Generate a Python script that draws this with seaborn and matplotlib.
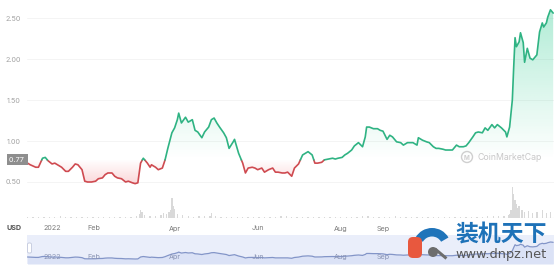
import numpy as np
import pandas as pd
import matplotlib
matplotlib.use("Agg")
import matplotlib.pyplot as plt
import seaborn as sns
from matplotlib.path import Path
from matplotlib.patches import Circle, Wedge, FancyBboxPatch, Rectangle
import matplotlib.transforms as mtransforms

# ---------------- data ----------------
# days relative to 2022-01-01
days = [-18, -16, -12, -10, -7, -5, -3, 0, 2, 4, 7, 10, 12, 15, 17, 19, 22, 24, 26, 29,
        32, 34, 37, 39, 41, 44, 46, 48, 51, 54, 56, 59, 61, 63, 65, 67, 70, 72, 73, 76,
        78, 81, 83, 85, 88, 90, 92, 93, 95, 98, 100, 103, 105, 107, 110, 112, 115, 117, 119, 121,
        123, 126, 128, 130, 133, 134, 137, 140, 142, 144, 147, 149, 151, 154, 156, 159, 162, 164, 166, 169,
        171, 173, 176, 178, 181, 184, 186, 188, 191, 193, 195, 198, 200, 203, 206, 208, 210, 213, 215, 217,
        220, 222, 225, 228, 230, 231, 233, 236, 239, 241, 243, 246, 248, 250, 253, 256, 258, 261, 263, 265,
        268, 269, 272, 275, 277, 280, 282, 284, 287, 289, 291, 294, 297, 299, 302, 304, 306, 309, 311, 313,
        316, 318, 320, 323, 325, 327, 330, 333, 334, 336, 338, 339, 340, 341, 343, 344, 346, 347, 349, 351,
        353, 356, 358, 360, 361, 363, 364, 366, 368]
price = [0.73, 0.71, 0.68, 0.68, 0.79, 0.80, 0.76, 0.72, 0.73, 0.71, 0.68, 0.63, 0.63, 0.68, 0.72, 0.71, 0.65, 0.51, 0.50, 0.50,
         0.51, 0.54, 0.55, 0.59, 0.61, 0.61, 0.57, 0.55, 0.54, 0.50, 0.51, 0.49, 0.48, 0.49, 0.73, 0.79, 0.73, 0.68, 0.71, 0.68,
         0.65, 0.67, 0.77, 0.91, 1.10, 1.16, 1.26, 1.34, 1.22, 1.29, 1.23, 1.26, 1.13, 1.11, 1.04, 1.11, 1.17, 1.26, 1.28, 1.22,
         1.17, 1.10, 1.04, 0.91, 0.99, 1.02, 0.85, 0.73, 0.61, 0.67, 0.68, 0.67, 0.65, 0.67, 0.62, 0.65, 0.67, 0.62, 0.62, 0.61,
         0.61, 0.62, 0.57, 0.67, 0.72, 0.83, 0.85, 0.87, 0.83, 0.73, 0.73, 0.74, 0.77, 0.78, 0.79, 0.78, 0.79, 0.80, 0.83, 0.85,
         0.89, 0.94, 0.98, 0.93, 1.05, 1.17, 1.17, 1.15, 1.15, 1.13, 1.12, 1.02, 1.07, 1.05, 0.99, 0.98, 0.95, 0.98, 0.98, 0.98,
         0.95, 1.04, 1.01, 0.99, 0.98, 0.93, 0.91, 0.91, 0.90, 0.89, 0.89, 0.89, 0.95, 0.93, 0.93, 0.94, 0.98, 1.05, 1.10, 1.11,
         1.10, 1.16, 1.13, 1.20, 1.16, 1.20, 1.16, 1.11, 1.05, 1.17, 1.50, 1.90, 2.26, 2.15, 2.21, 2.32, 2.20, 1.96, 2.13, 2.01,
         1.99, 2.05, 2.33, 2.44, 2.39, 2.44, 2.51, 2.60, 2.56]

vol_days = [-18, -14, -10, -6, -2, 2, 6, 10, 14, 18, 22, 26, 30, 34, 38, 42, 46, 50, 54, 58,
            62, 64, 65, 66, 68, 72, 76, 80, 82, 84, 86, 87, 88, 89, 90, 92, 96, 100, 104, 108,
            112, 116, 117, 120, 124, 128, 132, 136, 140, 144, 148, 152, 156, 160, 164, 168, 172, 176, 180, 184,
            188, 192, 196, 200, 204, 208, 212, 216, 220, 224, 228, 232, 236, 240, 244, 248, 252, 256, 260, 264,
            268, 272, 276, 280, 284, 288, 292, 296, 300, 304, 308, 312, 316, 320, 324, 328, 332, 335, 336, 337,
            338, 339, 340, 341, 342, 343, 345, 347, 350, 353, 356, 360, 363, 366]
volume = [30, 30, 30, 30, 30, 30, 40, 30, 30, 30, 30, 30, 30, 30, 30, 30, 30, 30, 30, 30,
          40, 80, 160, 120, 60, 40, 40, 60, 100, 80, 120, 160, 400, 240, 180, 80, 60, 40, 30, 40,
          40, 50, 100, 40, 30, 30, 30, 30, 30, 30, 30, 30, 30, 30, 30, 40, 40, 30, 30, 30,
          30, 30, 30, 30, 30, 30, 30, 30, 30, 30, 40, 40, 30, 30, 30, 30, 40, 30, 30, 30,
          30, 30, 30, 30, 30, 30, 30, 30, 30, 30, 30, 30, 30, 40, 40, 40, 50, 60, 80, 160,
          620, 480, 360, 280, 200, 240, 160, 120, 140, 100, 120, 160, 100, 120]

month_ticks = [0, 31, 90, 151, 212, 243]
month_labels = ["2022", "Feb", "Apr", "Jun", "Aug", "Sep"]
y_ticks = [0.5, 1.0, 1.5, 2.0, 2.5]
y_labels = ["0.50", "1.00", "1.50", "2.00", "2.50"]
base_price = 0.77

GREEN = "#2fb383"
RED = "#cf4a50"

# ---------------- figure ----------------
sns.set_theme(style="white")
plt.rcParams["font.family"] = ["Inter", "DejaVu Sans"]

W, H = 554, 266
fig = plt.figure(figsize=(W / 100, H / 100), dpi=100)
fig.patch.set_facecolor("white")
# pixel coordinates with origin at top-left
PIX = mtransforms.Affine2D().scale(1.0, -1.0).translate(0, H) + \
    mtransforms.Affine2D().scale(1.0 / W, 1.0 / H) + fig.transFigure


def px_ax(x0, y_top, x1, y_bot):
    return fig.add_axes([x0 / W, (H - y_bot) / H, (x1 - x0) / W, (y_bot - y_top) / H])


XMIN, XMAX = -18.4, 368.6

# volume axes (behind)
vax = px_ax(27, 178, 554, 218)
vax.set_xlim(XMIN, XMAX)
vax.set_ylim(0, 800)
vax.bar(vol_days, volume, width=1.0, color="#d9d9d9", linewidth=0)
vax.axhline(0, color="#e6e6e6", lw=0.8)
vax.axis("off")

# main price axes
ax = px_ax(27, 0, 554, 223)
ax.patch.set_alpha(0)
ax.set_xlim(XMIN, XMAX)
ax.set_ylim(0, 223 / 82)
for s in ax.spines.values():
    s.set_visible(False)
for yv in y_ticks:
    ax.axhline(yv, color="#f2f2f2", lw=0.6, zorder=0)

xs = np.array(days, float)
ys = np.array(price, float)


def grad_fill(where_up):
    if where_up:
        coll = ax.fill_between(xs, ys, base_price, where=ys >= base_price, interpolate=True,
                               facecolor="none", edgecolor="none")
        lo, hi = base_price, 2.65
        rgba = np.zeros((100, 2, 4))
        rgba[..., :3] = matplotlib.colors.to_rgb("#16c784")
        rgba[..., 3] = np.linspace(0.34, 0.0, 100)[:, None]
    else:
        coll = ax.fill_between(xs, ys, base_price, where=ys < base_price, interpolate=True,
                               facecolor="none", edgecolor="none")
        lo, hi = 0.45, base_price
        rgba = np.zeros((100, 2, 4))
        rgba[..., :3] = matplotlib.colors.to_rgb("#ea3943")
        rgba[..., 3] = np.linspace(0.0, 0.22, 100)[:, None]
    paths = coll.get_paths()
    if not paths:
        return
    cp = Path.make_compound_path(*paths)
    im = ax.imshow(rgba, extent=[XMIN, XMAX, lo, hi], origin="upper", aspect="auto",
                   interpolation="bilinear", zorder=1)
    im.set_clip_path(cp, transform=ax.transData)


grad_fill(True)
grad_fill(False)
ax.set_xlim(XMIN, XMAX)
ax.set_ylim(0, 223 / 82)

# split line by baseline
rows = []
seg = 0
side = "up" if ys[0] >= base_price else "down"
rows.append((xs[0], ys[0], seg, side))
for i in range(1, len(xs)):
    s = "up" if ys[i] >= base_price else "down"
    if s != side:
        t = (base_price - ys[i - 1]) / (ys[i] - ys[i - 1])
        xc = xs[i - 1] + t * (xs[i] - xs[i - 1])
        rows.append((xc, base_price, seg, side))
        seg += 1
        side = s
        rows.append((xc, base_price, seg, side))
    rows.append((xs[i], ys[i], seg, side))
df = pd.DataFrame(rows, columns=["day", "price", "seg", "side"])
sns.lineplot(data=df, x="day", y="price", hue="side", units="seg", estimator=None,
             palette={"up": GREEN, "down": RED}, sort=False, legend=False,
             linewidth=1.2, ax=ax, zorder=3)
ax.set_xlabel("")
ax.set_ylabel("")

ax.set_yticks(y_ticks)
ax.set_yticklabels(y_labels)
ax.set_xticks(month_ticks)
ax.set_xticklabels(month_labels)
ax.tick_params(axis="y", length=0, pad=4.5, labelsize=5.2, labelcolor="#a3a3a3")
ax.tick_params(axis="x", length=0, pad=1.8, labelsize=5.2, labelcolor="#7a7a7a")

# baseline price tag
trans = mtransforms.blended_transform_factory(ax.transAxes, ax.transData)
ax.text(-0.002, base_price, "0.77 ", transform=trans, ha="right", va="center",
        fontsize=5.2, color="white",
        bbox=dict(boxstyle="square,pad=0.35", fc="#8e8e8e", ec="none"), zorder=5)

# USD label
fig.text(14 / W, 1 - 228 / H, "USD", ha="center", va="center", fontsize=5.2,
         color="#555555", fontweight="bold")

# CoinMarketCap watermark
fig.add_artist(Circle((467, 157), 5.5, transform=PIX, fill=False, ec="#cfcfcf", lw=1.0))
fig.text(467 / W, 1 - 157.5 / H, "M", ha="center", va="center", fontsize=4.5, color="#cfcfcf",
         fontweight="bold")
fig.text(478 / W, 1 - 157 / H, "CoinMarketCap", ha="left", va="center", fontsize=6.3,
         color="#c8c8c8")

# navigator
nav = px_ax(27, 235, 554, 264)
nav.set_xlim(XMIN, XMAX)
nav.set_ylim(-0.143, 3.473)
nav.set_facecolor("#eaeefa")
for s in nav.spines.values():
    s.set_visible(False)
nav.fill_between(xs, ys, -0.143, color="#dbe2f6", lw=0)
sns.lineplot(x=xs, y=ys, ax=nav, color="#8395c8", linewidth=0.9, sort=True)
nav.set_xticks([])
nav.set_yticks([])
nav.set_xlabel("")
nav.set_ylabel("")
for d, lab in zip(month_ticks, month_labels):
    nav.text(d, 0.24, lab, transform=mtransforms.blended_transform_factory(nav.transData, nav.transAxes),
             ha="center", va="center", fontsize=5.2, color="#8a94b4")
fig.add_artist(FancyBboxPatch((27.5, 243), 4, 10, boxstyle="round,pad=0,rounding_size=1.5",
                              transform=PIX, fc="white", ec="#b8bfd6", lw=0.5))

# 装机天下 watermark
fig.add_artist(Wedge((432, 247), 19, 210, 330, width=8.5, transform=PIX, fc="#1f74ba", ec="none"))
fig.add_artist(FancyBboxPatch((408, 237), 14, 21, boxstyle="round,pad=0,rounding_size=5",
                              transform=PIX, fc="#e8583e", ec="none"))
fig.add_artist(Circle((433, 252), 5, transform=PIX, fc="#6d6d6d", ec="none"))
fig.add_artist(Rectangle((434, 250), 15, -3, angle=40, transform=PIX, fc="#6d6d6d", ec="none"))
fig.text(501 / W, 1 - 235 / H, "装机天下", ha="center", va="center", fontsize=16.5,
         color="#1e72b8", fontweight="bold", family=["Noto Sans CJK SC", "DejaVu Sans"])
fig.text(501 / W, 1 - 254.5 / H, "www.dnpz.net", ha="center", va="center", fontsize=9.3,
         color="#555555", family=["DejaVu Sans"])

fig.savefig("out.png", dpi=100)
